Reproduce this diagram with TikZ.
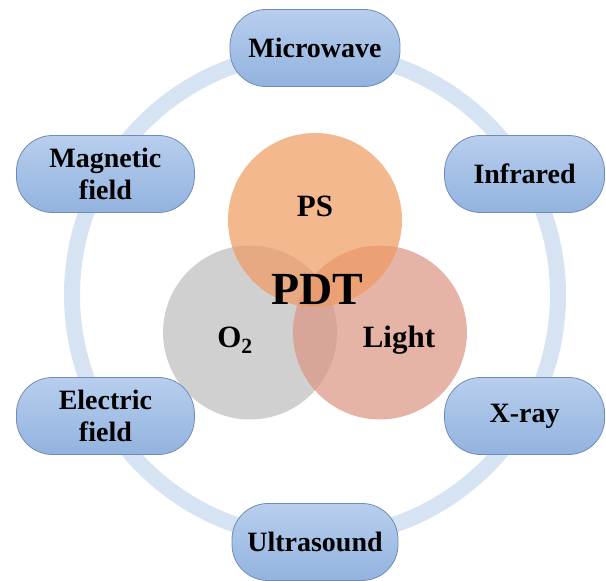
\documentclass[tikz,border=0pt]{standalone}
\usepackage{fontspec}
\setmainfont{Liberation Serif}
\usetikzlibrary{positioning, calc}
\definecolor{ringblue}{RGB}{214,227,242}
\definecolor{boxtop}{RGB}{184,206,237}
\definecolor{boxbot}{RGB}{146,179,223}
\definecolor{boxedge}{RGB}{112,140,182}
\definecolor{psorange}{RGB}{239,154,96}
\definecolor{otwogray}{RGB}{188,188,188}
\definecolor{lightrose}{RGB}{219,148,130}

\begin{document}
\begin{tikzpicture}[
	x=1pt, y=1pt,
	% --- Styles ---
	fieldbox/.style={
		rectangle, draw=boxedge, line width=0.8pt, rounded corners=36pt,
		top color=boxtop, bottom color=boxbot,
		minimum width=172pt, minimum height=77pt, align=center,
		font=\fontsize{28}{32}\selectfont\bfseries
	},
	venn/.style={
		circle, minimum size=174pt, inner sep=0pt, fill opacity=0.7
	},
	vennlabel/.style={
		anchor=base, font=\fontsize{31}{35}\selectfont\bfseries
	},
	ring/.style={
		draw=ringblue, line width=16pt
	}
	]
	
	\useasboundingbox (0,0) rectangle (606,581);
	\coordinate (ctr) at (315,286);
	
	% --- 1. Outer ring ---
	\draw [ring] (ctr) circle (243);
	
	% --- 2. Venn circles ---
	\node [venn, fill=otwogray] (otwo) at ($(ctr)+(210:75)$) {};
	\node [venn, fill=lightrose] (light) at ($(ctr)+(330:75)$) {};
	\node [venn, fill=psorange] (ps) at ($(ctr)+(90:75)$) {};
	
	% Labels of the circles
	\node [vennlabel] (ps_lbl) at ($(ps.center)+(0,3)$) {PS};
	\node [vennlabel] (otwo_lbl) at ($(otwo.center)+(-15,-15.5)$) {O\textsubscript{2}};
	\node [vennlabel] (light_lbl) at ($(light.center)+(19,-15.5)$) {Light};
	\node [vennlabel, font=\fontsize{46}{50}\selectfont\bfseries] (pdt) at ($(ctr)+(2,-10)$) {PDT};
	
	% --- 3. Boxes on the ring ---
	\node [fieldbox, minimum width=170pt] (micro) at ($(ctr)+(90:247)$) {Microwave};
	\node [fieldbox, minimum width=160pt] (infra) at ($(ctr)+(30:242)$) {Infrared};
	\node [fieldbox, minimum width=160pt] (xray) at ($(ctr)+(-30:242)$) {X-ray};
	\node [fieldbox, minimum width=166pt] (ultra) at ($(ctr)+(-90:247)$) {Ultrasound};
	\node [fieldbox, minimum width=178pt] (elec) at ($(ctr)+(210:242)$) {Electric\\field};
	\node [fieldbox, minimum width=178pt] (magn) at ($(ctr)+(150:242)$) {Magnetic\\field};
	
\end{tikzpicture}
\end{document}
